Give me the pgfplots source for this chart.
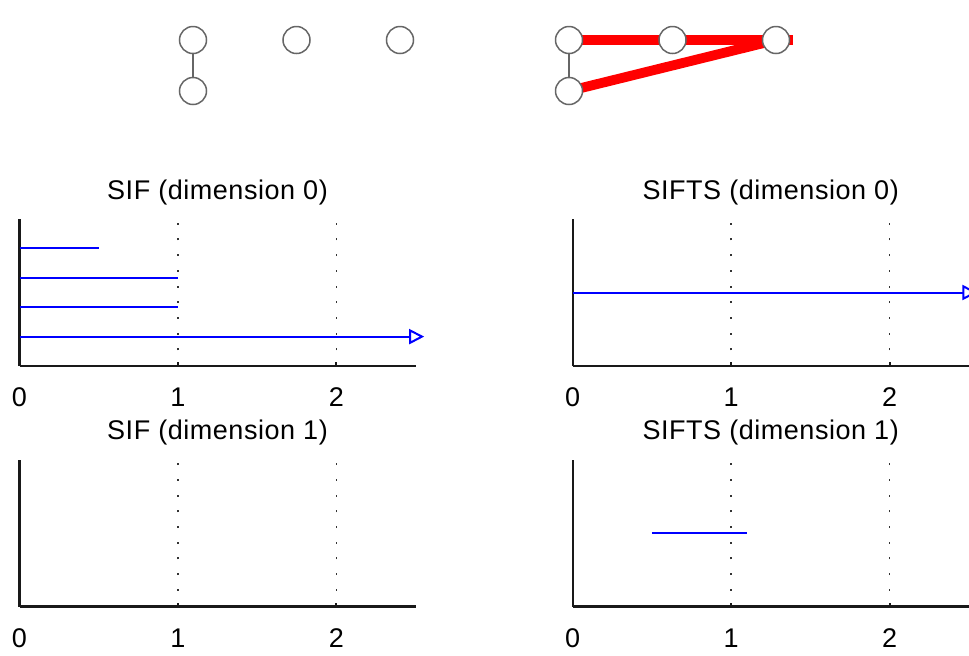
\documentclass[border=0pt]{standalone}
\usepackage{fontspec}
\setmainfont{Liberation Sans}[LetterSpace=2.0]
\usepackage{pgfplots}
\pgfplotsset{compat=1.18}
\usetikzlibrary{arrows.meta}
\newcommand{\fs}{\fontsize{13.5}{16}\selectfont}
\pgfplotsset{
  bar panel/.style={
    scale only axis, width=198pt, height=73.5pt,
    anchor=south west,
    xmin=0, xmax=2.5, ymin=0,
    axis lines=left,
    axis line style={-, line width=1.1pt, black!90},
    xtick={0,1,2}, ytick=\empty,
    tick align=inside, major tick length=2pt,
    tick style={line width=1pt, black!90},
    xmajorgrids,
    grid style={dash pattern=on 1pt off 6.85pt, black!80, line width=0.75pt},
    /pgf/number format/assume math mode=true,
    every axis title/.style={at={(0.5,1)}, anchor=base, yshift=10pt, font=\fs},
    xticklabel style={anchor=base, yshift=-20.25pt, font=\fs},
    clip=false,
  },
  graph panel/.style={
    scale only axis, width=103.5pt, height=25.5pt,
    anchor=south west, hide axis, clip=false,
    xmin=0, xmax=2, ymin=0, ymax=1,
  },
  bar/.style={blue, line width=1pt},
  infbar/.style={blue, line width=1pt, -{Triangle[open, length=7.5pt, width=7.5pt]}},
  node style/.style={only marks, mark=*, mark size=6.75pt,
    mark options={fill=white, draw=black!60, line width=0.75pt}},
}
\begin{document}
\begin{tikzpicture}
\clip (0,0) rectangle (484.5pt,-327.5pt);
% ---- left graph
\begin{axis}[graph panel, at={(96.5pt,-45.5pt)}]
\addplot[black!60, line width=0.7pt] coordinates {(0,0) (0,1)};
\addplot[node style] coordinates {(0,0) (0,1) (1,1) (2,1)};
\end{axis}
% ---- right graph
\begin{axis}[graph panel, at={(284.5pt,-45.5pt)}]
\addplot[black!60, line width=0.7pt] coordinates {(0,0) (0,1)};
\addplot[red, line width=4.9pt] coordinates {(0,1) (2.164,1)};
\addplot[red, line width=4.9pt] coordinates {(0,0) (2,1)};
\addplot[node style] coordinates {(0,0) (0,1) (1,1) (2,1)};
\end{axis}
% ---- SIF dimension 0
\begin{axis}[bar panel, at={(9.75pt,-183pt)}, ymax=5, title={SIF (dimension 0)}]
\addplot[bar] coordinates {(0,4) (0.5,4)};
\addplot[bar] coordinates {(0,3) (1,3)};
\addplot[bar] coordinates {(0,2) (1,2)};
\addplot[infbar] coordinates {(0,1) (2.555,1)};
\end{axis}
% ---- SIF dimension 1
\begin{axis}[bar panel, at={(9.75pt,-303.25pt)}, ymax=5, title={SIF (dimension 1)}]
\end{axis}
% ---- SIFTS dimension 0
\begin{axis}[bar panel, at={(286.35pt,-183pt)}, ymax=2, title={SIFTS (dimension 0)}]
\addplot[infbar] coordinates {(0,1) (2.555,1)};
\end{axis}
% ---- SIFTS dimension 1
\begin{axis}[bar panel, at={(286.35pt,-303.25pt)}, ymax=2, title={SIFTS (dimension 1)}]
\addplot[bar] coordinates {(0.5,1) (1.1,1)};
\end{axis}
\end{tikzpicture}
\end{document}
